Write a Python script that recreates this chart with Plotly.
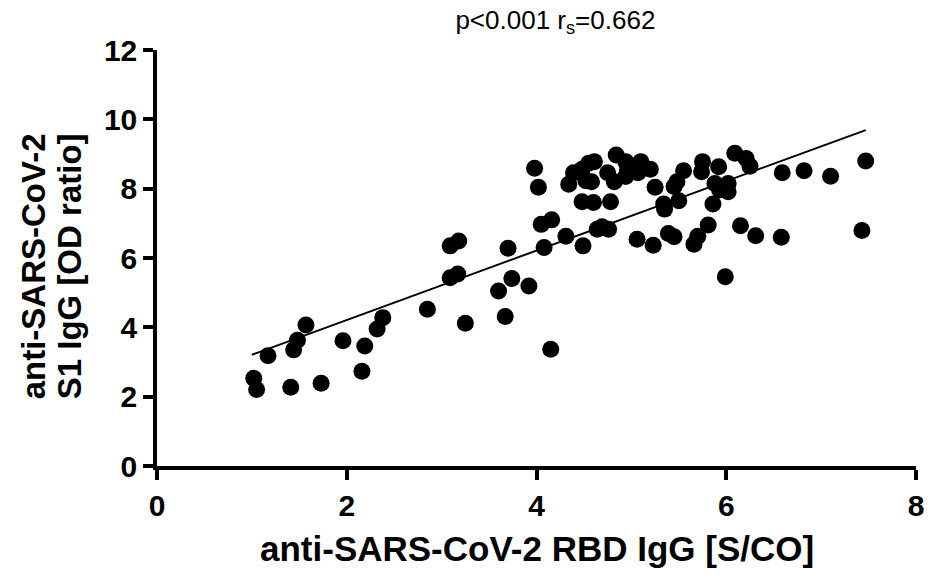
import plotly.graph_objects as go

rbd_igg = [1.02, 1.05, 1.17, 1.41, 1.44, 1.48, 1.57, 1.73, 1.96, 2.16, 2.19, 2.32, 2.38,
           2.85, 3.25, 3.09, 3.17, 3.09, 3.18, 3.60, 3.67, 3.74, 3.70, 3.92, 3.98, 4.02,
           4.05, 4.15, 4.16, 4.08, 4.31, 4.49, 4.34, 4.39, 4.48, 4.52, 4.58, 4.55, 4.61,
           4.48, 4.60, 4.78, 4.64, 4.69, 4.76, 4.84, 4.75, 4.82, 4.94, 4.96, 4.94, 5.10,
           5.07, 5.20, 5.06, 5.23, 5.25, 5.34, 5.35, 5.45, 5.48, 5.55, 5.50, 5.39, 5.45,
           5.66, 5.70, 5.75, 5.74, 5.92, 5.88, 6.02, 6.02, 5.93, 5.86, 5.81, 5.99, 6.09,
           6.21, 6.25, 6.15, 6.31, 6.59, 6.58, 6.82, 7.10, 7.47, 7.43]
s1_igg = [2.53, 2.21, 3.18, 2.27, 3.35, 3.63, 4.07, 2.39, 3.61, 2.73, 3.46, 3.95, 4.28,
          4.52, 4.12, 5.43, 5.54, 6.35, 6.49, 5.05, 4.31, 5.41, 6.28, 5.19, 8.59, 8.04,
          6.97, 3.37, 7.10, 6.30, 6.63, 6.35, 8.13, 8.46, 8.56, 8.23, 8.20, 8.73, 8.78,
          7.62, 7.60, 7.62, 6.83, 6.90, 6.83, 8.97, 8.46, 8.20, 8.78, 8.54, 8.35, 8.78,
          8.46, 8.56, 6.54, 6.37, 8.04, 7.56, 7.41, 8.06, 8.20, 8.52, 7.65, 6.71, 6.61,
          6.40, 6.63, 8.78, 8.49, 8.63, 8.15, 8.15, 7.91, 7.96, 7.56, 6.95, 5.46, 9.02,
          8.87, 8.65, 6.93, 6.64, 8.46, 6.60, 8.52, 8.36, 8.80, 6.79]

fit_x = [1.0, 7.47]
fit_y = [3.21, 9.69]

x_ticks = [0, 2, 4, 6, 8]
y_ticks = [0, 2, 4, 6, 8, 10, 12]

title_text = "p<0.001 r<sub>s</sub>=0.662"
x_title = "anti-SARS-CoV-2 RBD IgG [S/CO]"
y_title_lines = ["anti-SARS-CoV-2", "S1 IgG [OD ratio]"]

FONT = "Arial, Liberation Sans, sans-serif"

fig = go.Figure()
fig.add_trace(go.Scatter(x=rbd_igg, y=s1_igg, mode="markers",
                         marker=dict(size=17, color="black", line=dict(width=0)),
                         showlegend=False, cliponaxis=False))
fig.add_trace(go.Scatter(x=fit_x, y=fit_y, mode="lines",
                         line=dict(color="black", width=2), showlegend=False))

axis_common = dict(showline=True, linecolor="black", linewidth=3.5, ticks="outside",
                   ticklen=10, tickwidth=3.5, tickcolor="black", showgrid=False,
                   zeroline=False, tickfont=dict(family=FONT, size=30, color="black",
                                                 weight="bold"))

annotations = [
    dict(text=x_title, xref="paper", yref="paper", x=0.5, y=0, yshift=-82,
         xanchor="center", yanchor="middle", showarrow=False,
         font=dict(family=FONT, size=35, color="black", weight="bold")),
]
for shift, line in zip([-124, -88], y_title_lines):
    annotations.append(dict(text=line, xref="paper", yref="paper", x=0, y=0.48,
                            xshift=shift, xanchor="center", yanchor="middle",
                            textangle=-90, showarrow=False,
                            font=dict(family=FONT, size=33, color="black", weight="bold")))

fig.update_layout(
    width=935, height=581,
    margin=dict(l=157, r=11, t=50, b=115),
    paper_bgcolor="white", plot_bgcolor="white",
    title=dict(text=title_text, x=0.594, xanchor="center",
               y=0.966, yanchor="middle",
               font=dict(family=FONT, size=26, color="black")),
    xaxis=dict(range=[0, 8], tickvals=x_ticks, **axis_common),
    yaxis=dict(range=[0, 12], tickvals=y_ticks, **axis_common),
    annotations=annotations,
)

fig.write_html("out.html", config={"displayModeBar": False},
               post_script="document.body.style.margin='0';")
